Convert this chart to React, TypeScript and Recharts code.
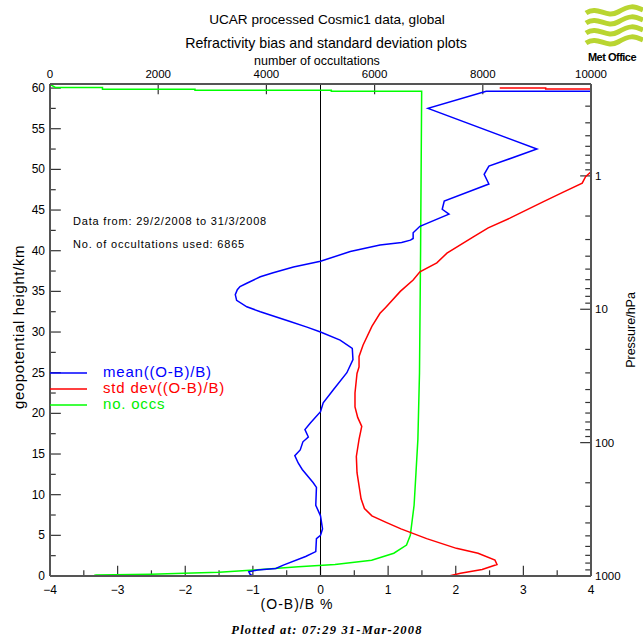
import React from 'react';
import { LineChart, Line, XAxis, YAxis, ReferenceLine } from 'recharts';

// mean((O-B)/B), read top to bottom
const meanHeights = [59.65, 59.6, 57.5, 52.5, 50.4, 49.4, 48.2, 46.1, 45.1, 44.5, 43.0, 42.2, 41.5, 41.3, 41.0, 40.7, 39.9, 38.7, 38.0, 37.3, 36.8, 36.0, 35.6, 35.2, 34.6, 33.9, 33.1, 32.5, 31.3, 30.6, 30.0, 29.0, 28.0, 26.6, 25.0, 22.9, 21.3, 20.2, 18.8, 18.0, 17.1, 16.5, 15.5, 14.8, 13.9, 13.1, 11.5, 10.9, 8.7, 7.4, 5.8, 5.0, 4.6, 3.0, 2.4, 1.34, 0.93, 0.73, 0.53, 0.2, 0];
const meanValues = [6, 2.45, 1.59, 3.2, 2.49, 2.42, 2.49, 1.83, 1.8, 1.9, 1.47, 1.37, 1.37, 1.33, 1.2, 0.88, 0.44, 0, -0.4, -0.7, -0.89, -1.09, -1.19, -1.23, -1.26, -1.24, -1.09, -0.89, -0.45, -0.2, 0, 0.29, 0.47, 0.48, 0.39, 0.19, 0.04, 0, -0.15, -0.23, -0.18, -0.26, -0.3, -0.38, -0.33, -0.27, -0.11, -0.06, -0.07, 0, 0.03, 0, -0.06, -0.07, -0.22, -0.55, -0.66, -0.93, -1.06, -1.04, -1.0];

// std dev((O-B)/B)
const sdHeights = [60.02, 60.02, 59.88, 59.88, 49.9, 49.7, 49.1, 48.3, 47.2, 46.0, 44.0, 42.8, 41.7, 39.7, 38.5, 37.4, 36.4, 35.0, 33.0, 32.3, 30.7, 28.4, 27.0, 25.7, 24.9, 22.5, 20.8, 19.5, 18.4, 16.8, 14.7, 12.7, 9.5, 8.3, 7.4, 6.6, 5.8, 4.6, 3.4, 2.8, 1.95, 1.42, 0.81, 0.33, 0];
const sdValues = [2.65, 3.33, 3.33, 6, 4.02, 4.0, 3.92, 3.87, 3.59, 3.29, 2.8, 2.48, 2.26, 1.87, 1.72, 1.47, 1.37, 1.18, 0.96, 0.88, 0.76, 0.63, 0.57, 0.57, 0.54, 0.51, 0.51, 0.55, 0.61, 0.57, 0.53, 0.54, 0.6, 0.65, 0.76, 0.97, 1.19, 1.57, 2.01, 2.33, 2.58, 2.61, 2.39, 2.07, 1.9];

// no. occs (top axis)
const occHeights = [60.45, 60.08, 60.08, 59.86, 59.86, 59.73, 59.73, 59.6, 59.6, 40, 25, 16.8, 12.7, 8.7, 5.0, 3.8, 2.8, 1.95, 1.42, 1.14, 0.73, 0.45, 0.33, 0.2, 0.12, 0.05, 0];
const occCounts = [0, 100, 970, 970, 2680, 2680, 5200, 5200, 6870, 6850, 6830, 6800, 6765, 6730, 6660, 6590, 6355, 5945, 5268, 4590, 3770, 3125, 2477, 1867, 850, 815, 0];

const biasTicks = [-4, -3.5, -3, -2.5, -2, -1.5, -1, -0.5, 0, 0.5, 1, 1.5, 2, 2.5, 3, 3.5, 4];
const heightTicks = [0, 2.5, 5, 7.5, 10, 12.5, 15, 17.5, 20, 22.5, 25, 27.5, 30, 32.5, 35, 37.5, 40, 42.5, 45, 47.5, 50, 52.5, 55, 57.5, 60];
const occTicks = [0, 2000, 4000, 6000, 8000, 10000];
const pressureTicks = [1000, 900, 800, 700, 600, 500, 400, 300, 200, 100, 90, 80, 70, 60, 50, 40, 30, 20, 10, 9, 8, 7, 6, 5, 4, 3, 2, 1, 0.9, 0.8, 0.7, 0.6, 0.5, 0.4, 0.3];
const pressureLabels = [1, 10, 100, 1000];

const H_MAX = 60.5;
const X_MIN = -4;
const X_MAX = 4;
const KM_PER_DECADE = 16.4;
const heightOf = (p: number) => KM_PER_DECADE * Math.log10(1000 / p);
const pressureOf = (h: number) => 1000 / Math.pow(10, h / KM_PER_DECADE);

// tick mark lengths in data units (about 10 px major, 5 px minor)
const KM_MAJOR = 1.25;
const KM_MINOR = 0.7;
const PCT_MAJOR = 0.16;
const PCT_MINOR = 0.085;

const meanData = meanHeights.map((h, i) => ({ h, v: meanValues[i] }));
const sdData = sdHeights.map((h, i) => ({ h, v: sdValues[i] }));
const occData = occHeights.map((h, i) => ({ h, n: occCounts[i] }));

const FONT = '"Liberation Sans", Arial, sans-serif';
const AXIS = '#555';
const TICK = '#333';

const isMajorPressure = (p: number) => {
  const lp = Math.log10(p);
  return Math.abs(lp - Math.round(lp)) < 1e-6 && pressureLabels.includes(Math.round(p));
};

const BottomTick = (props: any) => {
  const { x, y, payload } = props;
  const v = payload.value;
  if (!Number.isInteger(v)) return <g />;
  return (
    <text x={x} y={y + 18} textAnchor="middle" fontSize={12} fontFamily={FONT} fill="#000">
      {v < 0 ? `\u2212${-v}` : v}
    </text>
  );
};

const TopTick = (props: any) => {
  const { x, y, payload } = props;
  return (
    <text x={x} y={y - 6} textAnchor="middle" fontSize={11.5} fontFamily={FONT} fill="#000">
      {payload.value}
    </text>
  );
};

const LeftTick = (props: any) => {
  const { x, y, payload } = props;
  const v = payload.value;
  if (v % 5 !== 0) return <g />;
  return (
    <text x={x - 5} y={y + 4} textAnchor="end" fontSize={12} fontFamily={FONT} fill="#000">
      {v}
    </text>
  );
};

const RightTick = (props: any) => {
  const { x, y, payload } = props;
  const p = pressureOf(payload.value);
  if (!isMajorPressure(p)) return <g />;
  return (
    <text x={x + 4} y={y + 4} textAnchor="start" fontSize={11.5} fontFamily={FONT} fill="#000">
      {Math.round(p)}
    </text>
  );
};

const MetOfficeLogo = () => (
  <g>
    {[0, 1, 2, 3].map((i) => {
      const y0 = 10 + i * 10;
      return (
        <path
          key={i}
          d={`M586,${y0 + 3} C598,${y0 - 5} 606,${y0 + 9} 618,${y0 + 2} S634,${y0 - 4} 643,${y0}`}
          stroke="#b9d531"
          strokeWidth={5}
          fill="none"
        />
      );
    })}
    <text x={612} y={61} textAnchor="middle" fontSize={11} fontWeight="bold" fontFamily={FONT} fill="#000" letterSpacing={-0.5}>
      Met Office
    </text>
  </g>
);

const tickMark = { stroke: TICK, strokeWidth: 1.2, ifOverflow: 'visible' as const };

export default function App() {
  return (
    <div style={{ position: 'absolute', left: 0, top: 0, width: 643, height: 640, background: '#fff' }}>
      <LineChart
        width={643}
        height={640}
        layout="vertical"
        margin={{ top: 64, right: 12, bottom: 40, left: 10 }}
      >
        <XAxis
          xAxisId="b"
          type="number"
          orientation="bottom"
          domain={[X_MIN, X_MAX]}
          ticks={biasTicks}
          interval={0}
          allowDataOverflow
          height={24}
          tickSize={0}
          tickMargin={0}
          tickLine={false}
          axisLine={{ stroke: AXIS, strokeWidth: 2 }}
          tick={<BottomTick />}
        />
        <XAxis
          xAxisId="t"
          type="number"
          orientation="top"
          domain={[0, 10000]}
          ticks={occTicks}
          interval={0}
          allowDataOverflow
          height={20}
          tickSize={0}
          tickMargin={0}
          tickLine={false}
          axisLine={{ stroke: AXIS, strokeWidth: 2 }}
          tick={<TopTick />}
        />
        <YAxis
          yAxisId="h"
          type="number"
          dataKey="h"
          orientation="left"
          domain={[0, H_MAX]}
          reversed
          ticks={heightTicks}
          interval={0}
          allowDataOverflow
          width={40}
          tickSize={0}
          tickMargin={0}
          tickLine={false}
          axisLine={{ stroke: AXIS, strokeWidth: 2 }}
          tick={<LeftTick />}
        />
        <YAxis
          yAxisId="p"
          type="number"
          dataKey="h"
          orientation="right"
          domain={[0, H_MAX]}
          reversed
          ticks={pressureTicks.map(heightOf)}
          interval={0}
          allowDataOverflow
          width={40}
          tickSize={0}
          tickMargin={0}
          tickLine={false}
          axisLine={{ stroke: AXIS, strokeWidth: 2 }}
          tick={<RightTick />}
        />

        {/* inward tick marks, drawn through the axes' scales */}
        {biasTicks.map((t) => (
          <ReferenceLine
            key={`b${t}`}
            xAxisId="b"
            yAxisId="h"
            segment={[{ x: t, y: 0 }, { x: t, y: Number.isInteger(t) ? KM_MAJOR : KM_MINOR }]}
            {...tickMark}
          />
        ))}
        {occTicks.map((t) => (
          <ReferenceLine
            key={`t${t}`}
            xAxisId="t"
            yAxisId="h"
            segment={[{ x: t, y: H_MAX }, { x: t, y: H_MAX - KM_MAJOR }]}
            {...tickMark}
          />
        ))}
        {heightTicks.map((t) => (
          <ReferenceLine
            key={`h${t}`}
            xAxisId="b"
            yAxisId="h"
            segment={[{ x: X_MIN, y: t }, { x: X_MIN + (t % 5 === 0 ? PCT_MAJOR : PCT_MINOR), y: t }]}
            {...tickMark}
          />
        ))}
        {pressureTicks.map((p) => (
          <ReferenceLine
            key={`p${p}`}
            xAxisId="b"
            yAxisId="p"
            segment={[{ x: X_MAX, y: heightOf(p) }, { x: X_MAX - (isMajorPressure(p) ? PCT_MAJOR : PCT_MINOR), y: heightOf(p) }]}
            {...tickMark}
          />
        ))}

        <ReferenceLine x={0} xAxisId="b" yAxisId="h" stroke="#000" strokeWidth={1} />
        <Line
          data={occData}
          dataKey="n"
          xAxisId="t"
          yAxisId="h"
          type="linear"
          stroke="#00ff00"
          strokeWidth={1.5}
          dot={false}
          isAnimationActive={false}
        />
        <Line
          data={sdData}
          dataKey="v"
          xAxisId="b"
          yAxisId="p"
          type="linear"
          stroke="#ff0000"
          strokeWidth={1.5}
          dot={false}
          isAnimationActive={false}
        />
        <Line
          data={meanData}
          dataKey="v"
          xAxisId="b"
          yAxisId="h"
          type="linear"
          stroke="#0000ff"
          strokeWidth={1.5}
          dot={false}
          isAnimationActive={false}
        />
      </LineChart>
      <svg
        width={643}
        height={640}
        style={{ position: 'absolute', left: 0, top: 0, pointerEvents: 'none' }}
        fontFamily={FONT}
      >
        <text x={327} y={24} textAnchor="middle" fontSize={13.6}>UCAR processed Cosmic1 data, global</text>
        <text x={326} y={48} textAnchor="middle" fontSize={14.2}>Refractivity bias and standard deviation plots</text>
        <text x={317} y={65} textAnchor="middle" fontSize={12.5}>number of occultations</text>
        <text x={297} y={609} textAnchor="middle" fontSize={14} letterSpacing={1}>(O-B)/B %</text>
        <text x={327} y={634} textAnchor="middle" fontSize={12.5} letterSpacing={1.2} fontWeight="bold" fontStyle="italic" fontFamily='"Liberation Serif", serif'>
          Plotted at: 07:29 31-Mar-2008
        </text>
        <text transform="translate(24,327) rotate(-90)" textAnchor="middle" fontSize={15} letterSpacing={0.6}>geopotential height/km</text>
        <text transform="translate(635,330) rotate(-90)" textAnchor="middle" fontSize={12.5}>Pressure/hPa</text>
        <text x={73} y={225} fontSize={11} letterSpacing={0.8}>Data from: 29/2/2008 to 31/3/2008</text>
        <text x={73} y={248} fontSize={11} letterSpacing={0.8}>No. of occultations used: 6865</text>
        <line x1={50} y1={373} x2={87} y2={373} stroke="#0000ff" strokeWidth={1.5} />
        <line x1={50} y1={389} x2={87} y2={389} stroke="#ff0000" strokeWidth={1.5} />
        <line x1={50} y1={405} x2={87} y2={405} stroke="#00ff00" strokeWidth={1.5} />
        <text x={103} y={377} fontSize={15} letterSpacing={0.8} fill="#0000ff">mean((O-B)/B)</text>
        <text x={103} y={393} fontSize={15} letterSpacing={0.8} fill="#ff0000">std dev((O-B)/B)</text>
        <text x={103} y={409} fontSize={15} letterSpacing={0.8} fill="#00ee00">no. occs</text>
        <MetOfficeLogo />
      </svg>
    </div>
  );
}
